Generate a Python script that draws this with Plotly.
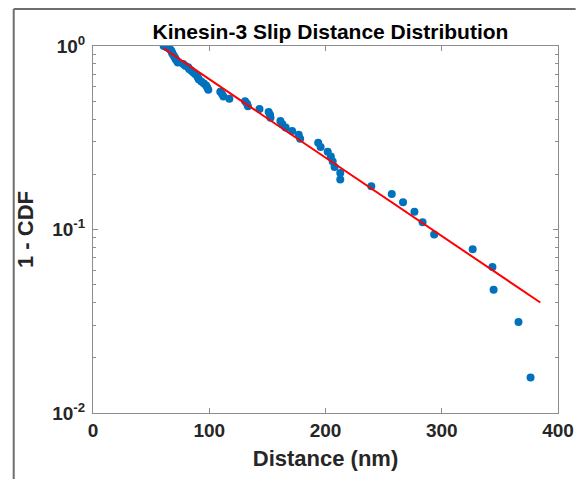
import plotly.graph_objects as go

# Slip distances (nm), sorted ascending, and their empirical survival values (1 - CDF)
distance_nm = [
    60.8, 63.3, 65.4, 66.7, 67.5, 67.9, 68.4, 69.2, 70.0, 70.6,
    71.3, 72.2, 73.0, 77.6, 79.3, 81.9, 82.7, 84.4, 86.1, 87.8,
    89.5, 90.3, 91.1, 93.2, 95.4, 97.3, 98.3, 99.2, 109.5, 111.0,
    112.2, 117.3, 130.8, 132.5, 133.3, 143.2, 151.1, 152.3, 152.7, 161.2,
    162.9, 165.7, 171.3, 177.0, 178.2, 193.7, 195.8, 201.9, 204.6, 206.2,
    207.8, 212.7, 212.7, 239.4, 257.0, 266.7, 276.5, 283.5, 293.5, 326.6,
    343.6, 344.6, 366.0, 376.4,
]
survival = [
    1.0000, 0.9844, 0.9688, 0.9531, 0.9375, 0.9219, 0.9063, 0.8906, 0.8750, 0.8594,
    0.8438, 0.8281, 0.8125, 0.7969, 0.7813, 0.7656, 0.7500, 0.7344, 0.7188, 0.7031,
    0.6875, 0.6719, 0.6563, 0.6406, 0.6250, 0.6094, 0.5938, 0.5781, 0.5625, 0.5469,
    0.5313, 0.5156, 0.5000, 0.4844, 0.4688, 0.4531, 0.4375, 0.4219, 0.4063, 0.3906,
    0.3750, 0.3594, 0.3438, 0.3281, 0.3125, 0.2969, 0.2813, 0.2656, 0.2500, 0.2344,
    0.2188, 0.2031, 0.1875, 0.1719, 0.1563, 0.1406, 0.1250, 0.1094, 0.0938, 0.0781,
    0.0625, 0.0469, 0.0313, 0.0156,
]

# Exponential fit (straight on the log axis), endpoints
fit_x = [60.8, 384.8]
fit_y = [0.97, 0.040]

x_ticks = [0, 100, 200, 300, 400]
y_ticks = [0.01, 0.1, 1]
y_tick_text = ["10<sup>-2</sup>", "10<sup>-1</sup>", "10<sup>0</sup>"]
y_minor = [m * d for d in (0.01, 0.1) for m in range(2, 10)]

FONT = "Liberation Sans, Arial, Helvetica, sans-serif"
AXIS_GRAY = "#8c8c8c"
TEXT = "#262626"

fig = go.Figure()
fig.add_trace(go.Scatter(
    x=distance_nm, y=survival, mode="markers",
    marker=dict(color="#0072BD", size=8, line=dict(width=0)),
    showlegend=False,
))
fig.add_trace(go.Scatter(
    x=fit_x, y=fit_y, mode="lines",
    line=dict(color="#FF0000", width=2),
    showlegend=False,
))

axis_common = dict(
    showline=True, linecolor=AXIS_GRAY, linewidth=1, mirror="ticks",
    ticks="inside", tickcolor=AXIS_GRAY, ticklen=5, tickwidth=1,
    showgrid=False, zeroline=False,
    tickfont=dict(family=FONT, size=19, color=TEXT),
)

fig.update_layout(
    width=586, height=479,
    margin=dict(l=93, r=18, t=46, b=66),
    paper_bgcolor="white", plot_bgcolor="white",
    title=dict(
        text="<b>Kinesin-3 Slip Distance Distribution</b>",
        x=(93 + 568) / 2 / 586, xanchor="center",
        y=1 - 32 / 479, yanchor="middle",
        font=dict(family=FONT, size=21, color="black"),
    ),
    xaxis=dict(
        **axis_common,
        range=[0, 400], tickvals=x_ticks,
        ticktext=[f"<b>{v}</b>" for v in x_ticks],
        title=dict(text="<b>Distance (nm)</b>", standoff=10,
                   font=dict(family=FONT, size=22, color=TEXT)),
    ),
    yaxis=dict(
        **axis_common,
        type="log", range=[-2, 0], tickvals=y_ticks,
        ticktext=[f"<b>{t}</b>" for t in y_tick_text],
        ticklabelstandoff=3,
        minor=dict(ticks="inside", tickvals=y_minor, ticklen=3,
                   tickcolor=AXIS_GRAY, showgrid=False),
        title=dict(text="<b>1 - CDF</b>", standoff=12,
                   font=dict(family=FONT, size=22, color=TEXT)),
    ),
)

# Gray frame along the left and top edges of the figure
px_w, px_h = 586 - 93 - 18, 479 - 46 - 66
fx = lambda p: (p - 93) / px_w
fy = lambda p: (413 - p) / px_h
frame = dict(color="#6e6e6e", width=2)
fig.add_shape(type="line", xref="paper", yref="paper",
              x0=fx(12), x1=fx(12), y0=fy(9), y1=fy(479), line=frame)
fig.add_shape(type="line", xref="paper", yref="paper",
              x0=fx(12), x1=fx(586), y0=fy(9), y1=fy(9), line=frame)

fig.write_html("out.html")
